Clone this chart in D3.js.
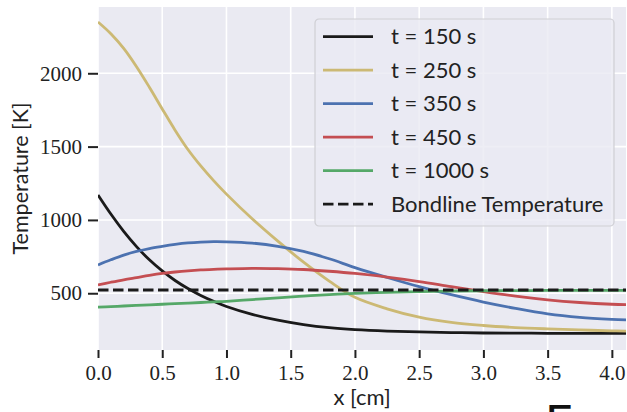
<!DOCTYPE html>
<html>
<head>
<meta charset="utf-8">
<script src="https://cdn.jsdelivr.net/npm/d3@7"></script>
<style>
  body { margin: 0; background: #fff; }
  svg { display: block; }
</style>
</head>
<body>
<div id="wrapper"></div>
<script>
/* DATA */
const xValues = [0, 0.1, 0.2, 0.3, 0.4, 0.5, 0.6, 0.7, 0.8, 0.9, 1.0, 1.2, 1.4, 1.6, 1.8, 2.0,
  2.25, 2.5, 2.75, 3.0, 3.25, 3.5, 3.75, 4.0, 4.11];

const temp150 = [1170, 1040, 922, 818, 728, 652, 587, 532, 485, 445, 410, 356, 316, 286, 265, 252,
  242, 236, 232, 229, 228, 227, 226, 226, 226];
const temp250 = [2350, 2270, 2170, 2045, 1905, 1757, 1612, 1480, 1368, 1268, 1176, 1008, 855, 712, 583, 472,
  394, 337, 301, 280, 266, 257, 250, 244, 242];
const temp350 = [693, 728, 760, 785, 805, 820, 833, 843, 849, 852, 851, 842, 820, 785, 735, 675,
  608, 545, 490, 440, 397, 360, 336, 322, 318];
const temp450 = [557, 575, 592, 607, 622, 635, 645, 653, 659, 663, 666, 670, 668, 662, 650, 635,
  610, 580, 545, 511, 480, 455, 437, 425, 422];
const temp1000 = [405, 409, 413, 417, 421, 425, 429, 433, 437, 441, 445, 457, 469, 480, 491, 499,
  506, 511, 515, 517, 518, 519, 520, 520, 520];

const bondlineTemp = 522;

const seriesNames = ['t = 150 s', 't = 250 s', 't = 350 s', 't = 450 s', 't = 1000 s'];
const seriesValues = [temp150, temp250, temp350, temp450, temp1000];
const seriesColors = ['#1a1a1a', '#CCB974', '#4C72B0', '#C44E52', '#55A868'];
const bondlineName = 'Bondline Temperature';

const xTicks = [0, 0.5, 1.0, 1.5, 2.0, 2.5, 3.0, 3.5, 4.0];
const yTicks = [500, 1000, 1500, 2000];

/* DIMENSIONS */
const dimensions = {
  width: 627,
  height: 412,
  margin: { top: 7, right: 1, bottom: 62, left: 98 },
};
dimensions.boundedWidth = dimensions.width - dimensions.margin.left - dimensions.margin.right;
dimensions.boundedHeight = dimensions.height - dimensions.margin.top - dimensions.margin.bottom;

/* SCALES */
const xScale = d3.scaleLinear().domain([0, 4.11]).range([0, dimensions.boundedWidth]);
const yScale = d3.scaleLinear().domain([113, 2452]).range([dimensions.boundedHeight, 0]);

/* DRAW */
const svg = d3.select('#wrapper').append('svg')
  .attr('width', dimensions.width)
  .attr('height', dimensions.height);

const bounds = svg.append('g')
  .attr('transform', `translate(${dimensions.margin.left},${dimensions.margin.top})`);

bounds.append('rect')
  .attr('width', dimensions.boundedWidth)
  .attr('height', dimensions.boundedHeight)
  .attr('fill', '#EAEAF2');

// grid
bounds.append('g').selectAll('line').data(xTicks).join('line')
  .attr('x1', d => xScale(d)).attr('x2', d => xScale(d))
  .attr('y1', 0).attr('y2', dimensions.boundedHeight)
  .attr('stroke', '#fff').attr('stroke-width', 1.6);
bounds.append('g').selectAll('line').data(yTicks).join('line')
  .attr('x1', 0).attr('x2', dimensions.boundedWidth)
  .attr('y1', d => yScale(d)).attr('y2', d => yScale(d))
  .attr('stroke', '#fff').attr('stroke-width', 1.6);

bounds.append('clipPath').attr('id', 'plot-clip')
  .append('rect')
  .attr('width', dimensions.boundedWidth)
  .attr('height', dimensions.boundedHeight);

const lineGenerator = d3.line()
  .x((d, i) => xScale(xValues[i]))
  .y(d => yScale(d))
  .curve(d3.curveCatmullRom.alpha(0.5));

const lines = bounds.append('g').attr('clip-path', 'url(#plot-clip)');
seriesValues.forEach((values, i) => {
  lines.append('path')
    .attr('d', lineGenerator(values))
    .attr('fill', 'none')
    .attr('stroke', seriesColors[i])
    .attr('stroke-width', 2.8);
});

lines.append('line')
  .attr('x1', xScale(0)).attr('x2', xScale(4.11))
  .attr('y1', yScale(bondlineTemp)).attr('y2', yScale(bondlineTemp))
  .attr('stroke', '#1a1a1a')
  .attr('stroke-width', 2.8)
  .attr('stroke-dasharray', '10.5,4.5');

/* AXES */
const xAxis = bounds.append('g')
  .attr('transform', `translate(0,${dimensions.boundedHeight})`)
  .call(d3.axisBottom(xScale).tickValues(xTicks).tickFormat(d3.format('.1f'))
    .tickSize(8).tickPadding(6));
const yAxis = bounds.append('g')
  .call(d3.axisLeft(yScale).tickValues(yTicks).tickFormat(d3.format('d'))
    .tickSize(10).tickPadding(6));

[xAxis, yAxis].forEach(ax => {
  ax.select('.domain').remove();
  ax.selectAll('.tick line').attr('stroke', '#222').attr('stroke-width', 2);
  ax.selectAll('.tick text')
    .attr('font-family', '"Liberation Serif", serif')
    .attr('font-size', 21)
    .attr('fill', '#222');
});
xAxis.selectAll('.tick text').attr('dy', '0.78em');

svg.append('text')
  .text('x [cm]')
  .attr('x', dimensions.margin.left + dimensions.boundedWidth / 2)
  .attr('y', 405)
  .attr('text-anchor', 'middle')
  .attr('font-family', 'Lato, sans-serif')
  .attr('font-size', 22)
  .attr('fill', '#222');

svg.append('text')
  .text('Temperature [K]')
  .attr('transform', `translate(28,${dimensions.margin.top + dimensions.boundedHeight / 2}) rotate(-90)`)
  .attr('text-anchor', 'middle')
  .attr('font-family', 'Lato, sans-serif')
  .attr('font-size', 21.5)
  .attr('fill', '#222');

// cropped panel letter peeking in at the bottom
svg.append('text')
  .text('F')
  .attr('x', 545)
  .attr('y', 440)
  .attr('font-family', 'Lato, sans-serif')
  .attr('font-size', 48)
  .attr('fill', '#111');

/* LEGEND */
const legend = svg.append('g').attr('transform', 'translate(315,19)');
legend.append('rect')
  .attr('width', 299).attr('height', 207)
  .attr('rx', 4)
  .attr('fill', 'rgba(234,234,242,0.8)')
  .attr('stroke', '#cfcfd4')
  .attr('stroke-width', 1.2);

const legendItems = seriesNames.map((name, i) => ({ name, color: seriesColors[i], dash: null }))
  .concat([{ name: bondlineName, color: '#1a1a1a', dash: '10.5,4.5' }]);

const rows = legend.selectAll('g.row').data(legendItems).join('g')
  .attr('transform', (d, i) => `translate(0,${17.7 + i * 33.5})`);
rows.append('line')
  .attr('x1', 8).attr('x2', 58)
  .attr('stroke', d => d.color)
  .attr('stroke-width', 2.8)
  .attr('stroke-dasharray', d => d.dash);
rows.append('text')
  .text(d => d.name)
  .attr('x', 76)
  .attr('y', 7.5)
  .attr('font-family', 'Lato, sans-serif')
  .attr('font-size', 22)
  .attr('fill', '#222');
</script>
</body>
</html>
